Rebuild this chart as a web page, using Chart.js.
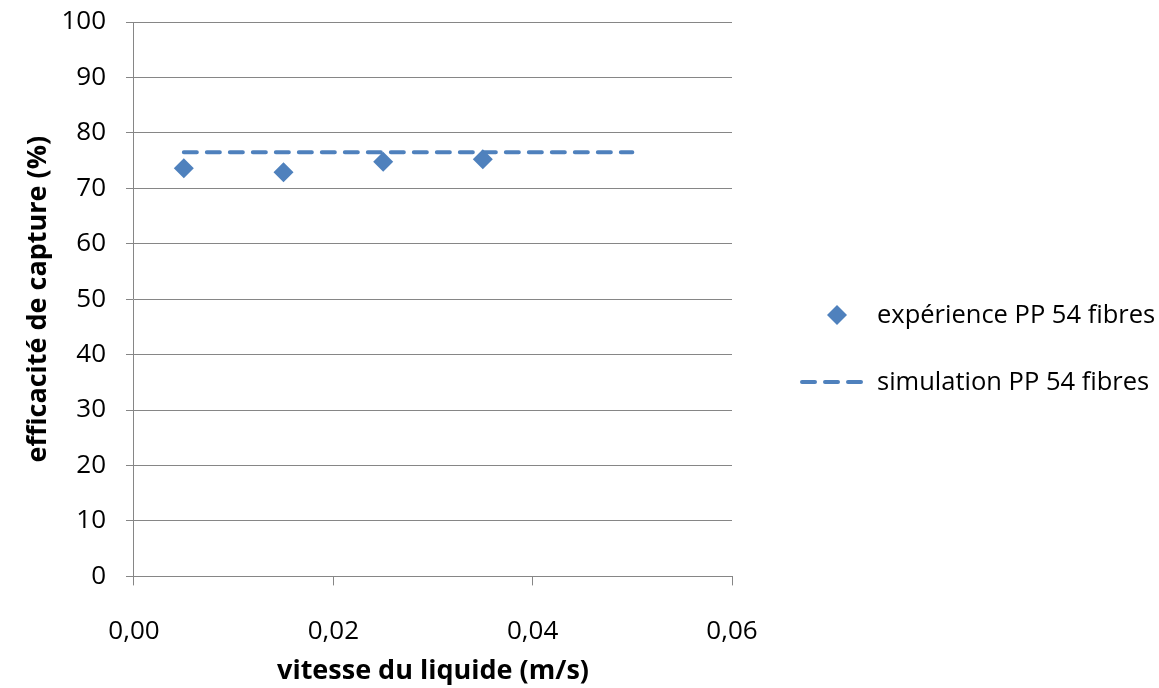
<!DOCTYPE html>
<html>
<head>
<meta charset="utf-8">
<script src="https://cdn.jsdelivr.net/npm/chart.js@4"></script>
<style>
  html, body { margin: 0; padding: 0; background: #fff; }
  #wrap { width: 1159px; height: 688px; }
</style>
</head>
<body>
<div id="wrap"><canvas id="grafica" width="1159" height="688"></canvas></div>
<script>
// données
var vitesses = [0.005, 0.015, 0.025, 0.035];
var experience = [73.6, 72.9, 74.8, 75.25];
var simX = [0.005, 0.05];
var simulation = [76.5, 76.5];
var xTicks = [0, 0.02, 0.04, 0.06];
var yMax = 100;

var bleu = '#4F81BD';
var gris = '#868686';
var police = "'Open Sans', sans-serif";

// légende dessinée à la main (Excel la place à droite, centrée)
var legende = {
    id: 'legende',
    afterDraw: function (chart) {
        var ctx = chart.ctx;
        var ds = chart.data.datasets;
        ctx.save();
        ctx.font = '25.5px ' + police;
        ctx.textBaseline = 'middle';
        // diamant
        ctx.fillStyle = ds[0].backgroundColor;
        ctx.beginPath();
        ctx.moveTo(837, 305);
        ctx.lineTo(847, 315);
        ctx.lineTo(837, 325);
        ctx.lineTo(827, 315);
        ctx.closePath();
        ctx.fill();
        ctx.fillStyle = '#000';
        ctx.fillText(ds[0].label, 877, 316);
        // trait pointillé
        ctx.strokeStyle = ds[1].borderColor;
        ctx.lineWidth = 4;
        ctx.lineCap = 'round';
        ctx.setLineDash([13, 10]);
        ctx.beginPath();
        ctx.moveTo(802, 382);
        ctx.lineTo(862, 382);
        ctx.stroke();
        ctx.setLineDash([]);
        ctx.fillText(ds[1].label, 877, 383);
        ctx.restore();
    }
};

var ctx = document.getElementById('grafica').getContext('2d');
new Chart(ctx, {
    type: 'scatter',
    data: {
        datasets: [{
            label: 'expérience PP 54 fibres',
            data: vitesses.map(function (v, i) { return { x: v, y: experience[i] }; }),
            pointStyle: 'rectRot',
            pointRadius: 10,
            pointHoverRadius: 10,
            backgroundColor: bleu,
            borderColor: bleu,
            borderWidth: 0,
            showLine: false
        }, {
            label: 'simulation PP 54 fibres',
            data: simX.map(function (v, i) { return { x: v, y: simulation[i] }; }),
            showLine: true,
            pointRadius: 0,
            borderColor: bleu,
            backgroundColor: bleu,
            borderWidth: 4,
            borderDash: [13, 10],
            borderCapStyle: 'round'
        }]
    },
    options: {
        responsive: false,
        animation: false,
        layout: { padding: { left: 22, right: 427, top: 22, bottom: 0 } },
        plugins: {
            legend: { display: false },
            tooltip: { enabled: false }
        },
        scales: {
            x: {
                type: 'linear',
                min: xTicks[0],
                max: xTicks[xTicks.length - 1],
                afterBuildTicks: function (axis) {
                    axis.ticks = xTicks.map(function (v) { return { value: v }; });
                },
                ticks: {
                    padding: 31,
                    color: '#000',
                    font: { family: police, size: 26 },
                    callback: function (v) { return v.toFixed(2).replace('.', ','); }
                },
                grid: { drawOnChartArea: false, tickLength: 9, color: gris },
                border: { color: gris, width: 1 },
                title: {
                    display: true,
                    text: 'vitesse du liquide (m/s)',
                    color: '#000',
                    font: { family: police, size: 27, weight: 'bold' },
                    padding: { top: -23, bottom: 0 }
                }
            },
            y: {
                min: 0,
                max: yMax,
                afterFit: function (axis) {
                    // le haut de la zone est fixé par layout.padding
                    axis.paddingTop = 0;
                },
                ticks: {
                    stepSize: 10,
                    padding: 20,
                    color: '#000',
                    font: { family: police, size: 26 }
                },
                grid: { color: gris, tickLength: 8 },
                border: { color: gris, width: 1 },
                title: {
                    display: true,
                    text: 'efficacité de capture (%)',
                    color: '#000',
                    font: { family: police, size: 27, weight: 'bold' },
                    padding: { top: 0, bottom: -13 }
                }
            }
        }
    },
    plugins: [legende]
});
</script>
</body>
</html>
